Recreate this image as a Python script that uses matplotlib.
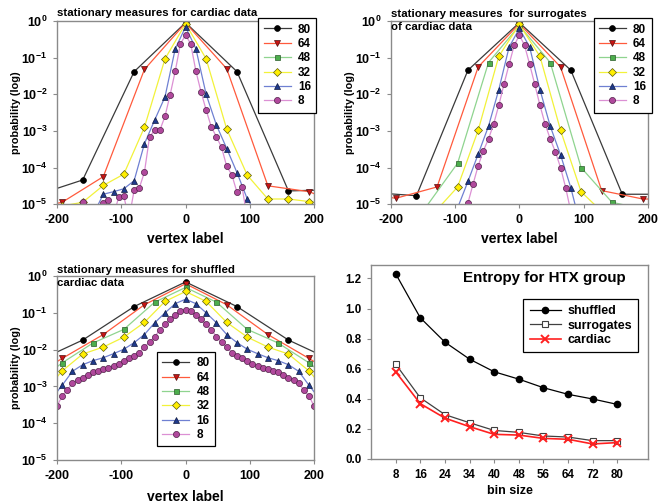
import numpy as np
import matplotlib
matplotlib.use('Agg')
import matplotlib.pyplot as plt
from matplotlib.ticker import NullLocator

plt.rcParams['font.family'] = ['Liberation Sans', 'DejaVu Sans']
plt.rcParams['font.weight'] = 'bold'
plt.rcParams['axes.labelweight'] = 'bold'
plt.rcParams['axes.unicode_minus'] = False
plt.rcParams['mathtext.fontset'] = 'custom'
plt.rcParams['mathtext.rm'] = 'Liberation Sans:bold'
plt.rcParams['mathtext.bf'] = 'Liberation Sans:bold'
plt.rcParams['mathtext.it'] = 'Liberation Sans:bold'

# ---- data: log10(probability) vs vertex label, one list per bin size ----
bins = [80, 64, 48, 32, 16, 8]

# cardiac data
card80_x = [-240, -160, -80, 0, 80, 160, 240]
card80 = [-4.8, -4.34, -1.38, -0.04, -1.38, -4.64, -4.6]
card64_x = [-256, -192, -128, -64, 0, 64, 128, 192, 256]
card64 = [-5.17, -4.95, -4.25, -1.32, -0.05, -1.30, -4.50, -4.66, -5.1]
card48_x = []
card48 = []
card32_x = [-192, -160, -128, -96, -64, -32, 0, 32, 64, 96, 128, 160, 192, 224]
card32 = [-5.05, -4.95, -4.49, -4.18, -2.90, -1.03, -0.07, -1.03, -2.95, -4.21, -4.86, -4.86, -4.93, -5.0]
card16_x = [-144, -128, -112, -96, -80, -64, -48, -32, -16, 0, 16, 32, 48, 64, 80, 96, 112]
card16 = [-5.3, -4.73, -4.66, -4.58, -4.36, -3.35, -2.70, -2.07, -0.75, -0.16, -0.75, -2.00, -2.84, -3.48, -4.14, -4.86, -5.3]
card8_x = [-160, -152, -144, -136, -128, -120, -112, -104, -96, -88, -80, -72, -64, -56, -48, -40,
           -32, -24, -16, -8, 0, 8, 16, 24, 32, 40, 48, 56, 64, 72, 80, 88, 96]
card8 = [-4.95, np.nan, np.nan, np.nan, -4.97, -4.88, -5.3, -4.81, -4.79, -5.4, -4.62, -4.56, -4.13, -3.16, -2.98, -2.98,
         -2.60, -2.01, -1.36, -0.62, -0.38, -0.62, -1.36, -1.93, -2.43, -2.89, -3.16, -3.45, -3.97, -4.20, -4.68, -4.54, -5.4]

# surrogates of cardiac data
sur80_x = [-240, -160, -80, 0, 80, 160, 240]
sur80 = [-4.67, -4.77, -1.34, -0.04, -1.34, -4.73, -4.73]
sur64_x = [-256, -192, -128, -64, 0, 64, 128, 192, 256]
sur64 = [-4.68, -4.84, -4.53, -1.25, -0.07, -1.25, -4.63, -4.86, -4.86]
sur48_x = [-192, -144, -96, -48, 0, 48, 96, 144, 192]
sur48 = [-5.6, -5.05, -3.88, -1.13, -0.12, -1.13, -4.00, -4.95, -5.13]
sur32_x = [-128, -96, -64, -32, 0, 32, 64, 96, 128]
sur32 = [-5.15, -4.53, -2.98, -0.96, -0.09, -0.96, -2.98, -4.66, -5.2]
sur16_x = [-96, -80, -64, -48, -32, -16, 0, 16, 32, 48, 64, 80, 96]
sur16 = [-5.1, -4.38, -3.63, -2.87, -1.87, -0.71, -0.20, -0.71, -1.87, -2.87, -3.65, -4.55, -5.66]
sur8_x = [-88, -80, -72, -64, -56, -48, -40, -32, -24, -16, -8, 0, 8, 16, 24, 32, 40, 48, 56, 64, 72, 80]
sur8 = [-5.5, -4.97, -4.45, -3.95, -3.54, -3.22, -2.81, -2.30, -1.73, -1.18, -0.66, -0.38,
        -0.66, -1.18, -1.73, -2.30, -2.81, -3.22, -3.57, -4.00, -4.55, -5.2]

# shuffled cardiac data
shu80_x = [-240, -160, -80, 0, 80, 160, 240]
shu80 = [-2.39, -1.74, -0.83, -0.16, -0.83, -1.74, -2.39]
shu64_x = [-256, -192, -128, -64, 0, 64, 128, 192, 256]
shu64 = [-2.93, -2.24, -1.59, -0.78, -0.21, -0.78, -1.59, -2.24, -2.93]
shu48_x = [-240, -192, -144, -96, -48, 0, 48, 96, 144, 192, 240]
shu48 = [-3.01, -2.36, -1.82, -1.45, -0.71, -0.31, -0.71, -1.45, -1.82, -2.36, -3.01]
shu32_x = [-224, -192, -160, -128, -96, -64, -32, 0, 32, 64, 96, 128, 160, 192, 224]
shu32 = [-3.23, -2.58, -2.12, -1.93, -1.66, -1.26, -0.69, -0.42, -0.69, -1.26, -1.66, -1.93, -2.12, -2.58, -3.23]
shu16_x = [-208, -192, -176, -160, -144, -128, -112, -96, -80, -64, -48, -32, -16, 0,
           16, 32, 48, 64, 80, 96, 112, 128, 144, 160, 176, 192, 208]
shu16 = [-3.33, -2.97, -2.59, -2.41, -2.30, -2.22, -2.11, -1.99, -1.81, -1.59, -1.27, -1.00, -0.75, -0.63,
         -0.75, -1.00, -1.27, -1.59, -1.81, -1.99, -2.11, -2.22, -2.30, -2.41, -2.59, -2.97, -3.33]
shu8_x = [-200, -192, -184, -176, -168, -160, -152, -144, -136, -128, -120, -112, -104, -96, -88, -80, -72,
          -64, -56, -48, -40, -32, -24, -16, -8, 0, 8, 16, 24, 32, 40, 48, 56, 64, 72, 80, 88, 96,
          104, 112, 120, 128, 136, 144, 152, 160, 168, 176, 184, 192, 200]
shu8 = [-3.54, -3.26, -3.11, -2.90, -2.82, -2.76, -2.68, -2.62, -2.58, -2.53, -2.49, -2.44, -2.38, -2.31, -2.23, -2.16, -2.08,
        -1.93, -1.80, -1.65, -1.46, -1.31, -1.18, -1.05, -0.96, -0.91, -0.96, -1.05, -1.18, -1.31, -1.46, -1.65, -1.80,
        -1.93, -2.08, -2.16, -2.23, -2.31, -2.38, -2.44, -2.49, -2.53, -2.58, -2.62, -2.68, -2.76, -2.82, -2.90,
        -3.11, -3.26, -3.54]

# entropy for HTX group
bin_size = [8, 16, 24, 32, 40, 48, 56, 64, 72, 80]
bin_labels = ['8', '16', '24', '34', '40', '48', '56', '64', '72', '80']
ent_shuffled = [1.232, 0.939, 0.777, 0.664, 0.580, 0.531, 0.474, 0.430, 0.399, 0.363]
ent_surrogates = [0.631, 0.407, 0.295, 0.241, 0.190, 0.177, 0.153, 0.146, 0.122, 0.122]
ent_cardiac = [0.580, 0.368, 0.272, 0.215, 0.164, 0.159, 0.137, 0.131, 0.100, 0.109]

# ---- styles ----
styles = {
    80: dict(color='#3a3a3a', marker='o', mfc='black', mec='black'),
    64: dict(color='#ff5a3c', marker='v', mfc='#c81414', mec='#501010'),
    48: dict(color='#8fd48f', marker='s', mfc='#4cae4c', mec='#2a5a2a'),
    32: dict(color='#f2f23a', marker='D', mfc='#ffee00', mec='#5a5a10'),
    16: dict(color='#6f80d2', marker='^', mfc='#1f3a8c', mec='#101a40'),
    8: dict(color='#dc90d4', marker='o', mfc='#b0489c', mec='#502048'),
}
msizes = {80: 4.2, 64: 4.4, 48: 3.6, 32: 3.6, 16: 4.4, 8: 4.4}
gray = '#8a8a8a'


def style_axes(ax):
    for sp in ax.spines.values():
        sp.set_color(gray)
        sp.set_linewidth(1.0)
    ax.tick_params(direction='out', length=3, width=0.8, color=gray, pad=4,
                   labelsize=9, top=False, right=False)


def log_panel(ax, xs_list, ys_list, title, title_y):
    for b, xs, ys in zip(bins, xs_list, ys_list):
        st = styles[b]
        ax.plot(xs, 10.0 ** np.array(ys, dtype=float), color=st['color'], lw=0.9,
                marker=st['marker'], ms=msizes[b], mfc=st['mfc'], mec=st['mec'],
                mew=0.5, label=str(b))
    ax.set_yscale('log')
    ax.set_ylim(1e-5, 1)
    ax.set_xlim(-200, 200)
    ax.set_xticks([-200, -100, 0, 100, 200])
    ax.set_yticks([1e0, 1e-1, 1e-2, 1e-3, 1e-4, 1e-5])
    ax.set_yticklabels([r'$10^{0}$', r'$10^{-1}$', r'$10^{-2}$', r'$10^{-3}$',
                        r'$10^{-4}$', r'$10^{-5}$'])
    ax.yaxis.set_minor_locator(NullLocator())
    style_axes(ax)
    ax.set_ylabel('probability (log)', fontsize=7.8)
    ax.yaxis.set_label_coords(-0.14, 0.5)
    ax.set_xlabel('vertex label', fontsize=10, va='top')
    ax.text(0.0, title_y, title, transform=ax.transAxes, fontsize=8.2,
            ha='left', va='baseline', linespacing=1.3)


fig = plt.figure(figsize=(6.68, 5.04), dpi=100)

ax1 = fig.add_axes([0.0853, 0.595, 0.385, 0.363])
log_panel(ax1, [card80_x, card64_x, card48_x, card32_x, card16_x, card8_x],
          [card80, card64, card48, card32, card16, card8],
          'stationary measures for cardiac data', 1.03)
ax1.xaxis.set_label_coords(0.5, -0.155)

ax2 = fig.add_axes([0.585, 0.595, 0.385, 0.363])
log_panel(ax2, [sur80_x, sur64_x, sur48_x, sur32_x, sur16_x, sur8_x],
          [sur80, sur64, sur48, sur32, sur16, sur8],
          'stationary measures  for surrogates\nof cardiac data', 0.953)
ax2.xaxis.set_label_coords(0.5, -0.155)

ax3 = fig.add_axes([0.0853, 0.0873, 0.385, 0.365])
log_panel(ax3, [shu80_x, shu64_x, shu48_x, shu32_x, shu16_x, shu8_x],
          [shu80, shu64, shu48, shu32, shu16, shu8],
          'stationary measures for shuffled\ncardiac data', 0.948)
ax3.xaxis.set_label_coords(0.5, -0.165)

leg_kw = dict(fontsize=8.5, handlelength=2.3, labelspacing=0.2, borderpad=0.45,
              handletextpad=0.6, fancybox=False, framealpha=1, edgecolor='black',
              borderaxespad=0)
for ax, loc, anchor in [(ax1, 'upper right', (1.008, 1.016)),
                        (ax2, 'upper right', (1.014, 1.016)),
                        (ax3, 'upper left', (0.389, 0.587))]:
    lg = ax.legend(loc=loc, bbox_to_anchor=anchor, **leg_kw)
    lg.get_frame().set_linewidth(0.9)

# entropy panel
ax4 = fig.add_axes([0.5554, 0.0893, 0.4147, 0.385])
ax4.plot(bin_size, ent_shuffled, color='black', lw=0.9, marker='o', ms=4.5,
         mfc='black', mec='black', label='shuffled')
ax4.plot(bin_size, ent_surrogates, color='#404040', lw=0.9, marker='s', ms=4.5,
         mfc='white', mec='#404040', mew=0.8, label='surrogates')
ax4.plot(bin_size, ent_cardiac, color='#ff2020', lw=1.2, marker='x', ms=5.5,
         mec='#ff2020', mew=1.4, label='cardiac')
ax4.set_xlim(0, 90)
ax4.set_ylim(0, 1.29)
ax4.set_xticks(bin_size)
ax4.set_xticklabels(bin_labels)
ax4.set_yticks([0.0, 0.2, 0.4, 0.6, 0.8, 1.0, 1.2])
ax4.set_yticklabels(['0.0', '0.2', '0.4', '0.6', '0.8', '1.0', '1.2'])
style_axes(ax4)
ax4.tick_params(labelsize=8.3)
ax4.set_xlabel('bin size', fontsize=9, va='top')
ax4.xaxis.set_label_coords(0.5, -0.134)
ax4.text(0.626, 0.933, 'Entropy for HTX group', transform=ax4.transAxes,
         fontsize=10.9, ha='center', va='center')
lg4 = ax4.legend(loc='upper right', bbox_to_anchor=(0.964, 0.825), fontsize=9,
                 handlelength=2.5, labelspacing=0.2, borderpad=0.5, handletextpad=0.5,
                 fancybox=False, framealpha=1, edgecolor='black', borderaxespad=0)
lg4.get_frame().set_linewidth(0.9)

fig.savefig('out.png', dpi=100)
